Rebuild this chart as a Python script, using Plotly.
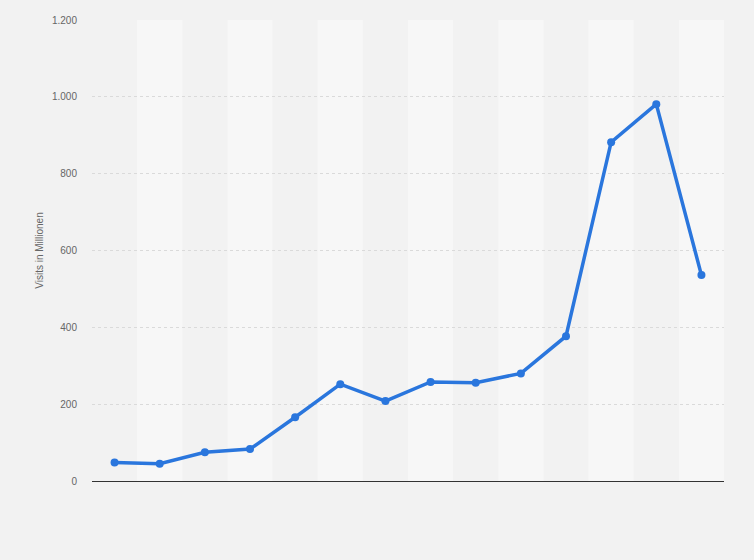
"""Plotly line chart: visits in millions."""

import plotly.graph_objects as go

# x categories are not labelled in the picture, only positions
periods = list(range(14))
visits = [48, 45, 75, 83, 166, 252, 208, 258, 256, 280, 377, 882, 981, 536]

y_ticks = [0, 200, 400, 600, 800, 1000, 1200]

fig = go.Figure()

fig.add_trace(
    go.Scatter(
        x=periods,
        y=visits,
        mode="lines+markers",
        line=dict(color="#2a76dd", width=3.5),
        marker=dict(color="#2a76dd", size=8),
        hovertemplate="%{y}<extra></extra>",
        name="Visits",
    )
)

# alternating column bands
shapes = []
for i in periods:
    if i % 2 == 1:
        shapes.append(
            dict(
                type="rect", xref="x", yref="y",
                x0=i - 0.5, x1=i + 0.5, y0=0, y1=y_ticks[-1],
                fillcolor="#f7f7f7", line=dict(width=0), layer="below",
            )
        )

fig.update_layout(
    width=754,
    height=560,
    paper_bgcolor="#f2f2f2",
    plot_bgcolor="#f2f2f2",
    margin=dict(l=92, r=30, t=20, b=79),
    showlegend=False,
    separators=",.",
    shapes=shapes,
    font=dict(family="Liberation Sans, Arial, sans-serif", color="#666666", size=10),
)

fig.update_xaxes(
    range=[-0.5, 13.5],
    showticklabels=False,
    showgrid=False,
    zeroline=False,
    showline=True,
    linecolor="#333333",
    linewidth=1.2,
    ticks="",
)

fig.update_yaxes(
    range=[0, 1200],
    tickvals=y_ticks,
    separatethousands=True,
    showgrid=True,
    gridcolor="#dadada",
    griddash="dot",
    gridwidth=1,
    zeroline=False,
    showline=False,
    ticks="",
    ticklabelstandoff=14,
    title=dict(text="Visits in Millionen", font=dict(size=10, color="#666666"), standoff=6),
)

fig.write_html(
    "out.html",
    config={"displayModeBar": False},
    post_script="document.body.style.margin='0';document.body.style.background='#f2f2f2';",
)
